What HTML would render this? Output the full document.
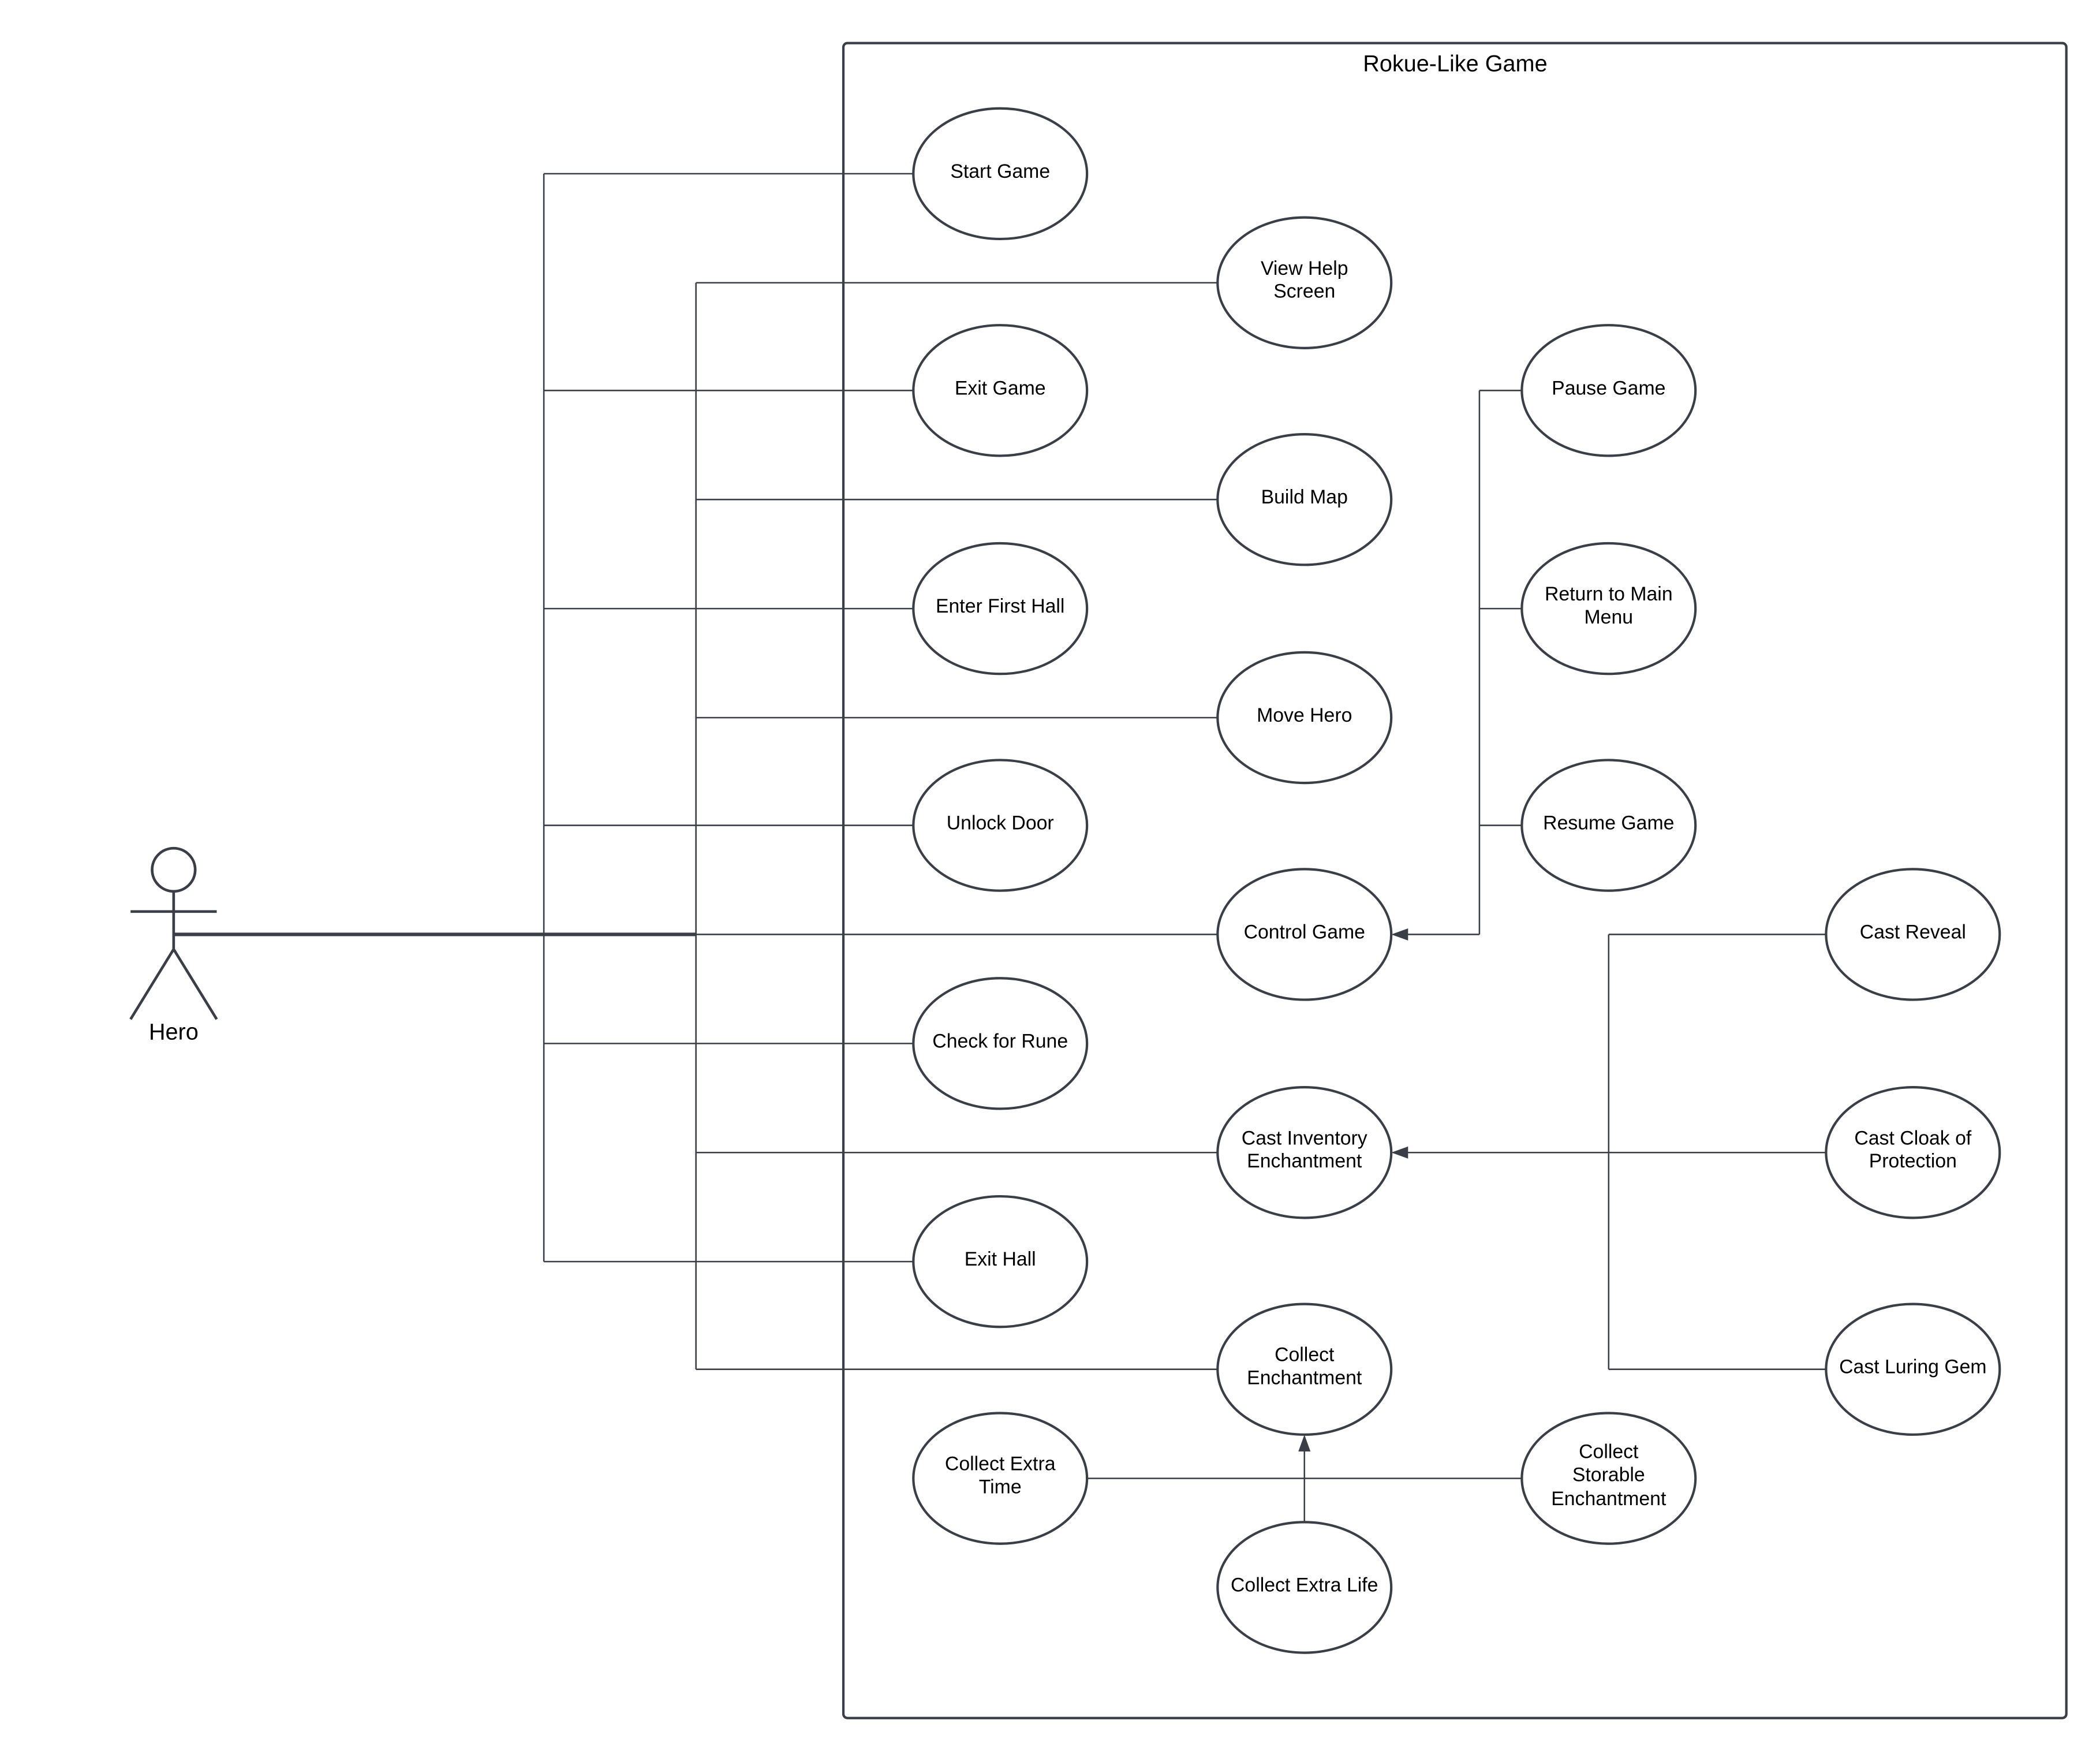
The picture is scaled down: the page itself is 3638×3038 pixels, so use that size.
<!DOCTYPE html>
<html><head><meta charset="utf-8"><style>
html,body{margin:0;padding:0;background:#fff;}
svg{display:block;}
text{font-family:"Liberation Sans",sans-serif;fill:#000;}
</style></head><body>
<svg width="3638" height="3038" viewBox="0 0 1560 1302.7" xmlns="http://www.w3.org/2000/svg">
<rect x="0" y="0" width="1560" height="1302.7" fill="#fff"/>
<rect x="626.5" y="32" width="908.5" height="1244" rx="3" fill="none" stroke="#3a3f47" stroke-width="1.8"/>
<text x="1081" y="53" font-size="17" text-anchor="middle">Rokue-Like Game</text>

<g fill="none" stroke="#3a3f47" stroke-width="1.1">
<!-- left bus x=404 -->
<path d="M404 129V937"/>
<path d="M404 129H678.5 M404 290H678.5 M404 452H678.5 M404 613H678.5 M404 775H678.5 M404 937H678.5"/>
<!-- bus x=517 -->
<path d="M517 210V1017"/>
<path d="M517 210H904.5 M517 371H904.5 M517 533H904.5 M517 694H904.5 M517 856H904.5 M517 1017H904.5"/>
<!-- right bus x=1099 -->
<path d="M1099 290V694 M1099 290H1130.5 M1099 452H1130.5 M1099 613H1130.5 M1099 694H1044"/>
<!-- bus x=1195 -->
<path d="M1195 694V1017 M1195 694H1356.5 M1195 856H1356.5 M1195 1017H1356.5 M1195 856H1044"/>
<!-- collect -->
<path d="M807.5 1098H1130.5 M969 1130.5V1077"/>
</g>
<path d="M129 694H517" stroke="#3a3f47" stroke-width="2.6"/>
<g fill="#3a3f47">
<polygon points="1033.5,694 1046,689.5 1046,698.5"/>
<polygon points="1033.5,856 1046,851.5 1046,860.5"/>
<polygon points="969,1065.5 964.5,1078 973.5,1078"/>
</g>

<!-- actor -->
<g fill="none" stroke="#3a3f47" stroke-width="2">
<ellipse cx="129" cy="646" rx="16" ry="16"/>
<path d="M129 662V705 M97 677H161 M129 705L97 757 M129 705L161 757"/>
</g>
<text x="129" y="772" font-size="17" text-anchor="middle">Hero</text>

<g fill="#fff" stroke="#3a3f47" stroke-width="1.8">
<ellipse cx="743" cy="129" rx="64.5" ry="48.5"/>
<ellipse cx="969" cy="210" rx="64.5" ry="48.5"/>
<ellipse cx="743" cy="290" rx="64.5" ry="48.5"/>
<ellipse cx="969" cy="371" rx="64.5" ry="48.5"/>
<ellipse cx="743" cy="452" rx="64.5" ry="48.5"/>
<ellipse cx="969" cy="533" rx="64.5" ry="48.5"/>
<ellipse cx="743" cy="613" rx="64.5" ry="48.5"/>
<ellipse cx="969" cy="694" rx="64.5" ry="48.5"/>
<ellipse cx="743" cy="775" rx="64.5" ry="48.5"/>
<ellipse cx="969" cy="856" rx="64.5" ry="48.5"/>
<ellipse cx="743" cy="937" rx="64.5" ry="48.5"/>
<ellipse cx="969" cy="1017" rx="64.5" ry="48.5"/>
<ellipse cx="743" cy="1098" rx="64.5" ry="48.5"/>
<ellipse cx="1195" cy="1098" rx="64.5" ry="48.5"/>
<ellipse cx="969" cy="1179" rx="64.5" ry="48.5"/>
<ellipse cx="1195" cy="290" rx="64.5" ry="48.5"/>
<ellipse cx="1195" cy="452" rx="64.5" ry="48.5"/>
<ellipse cx="1195" cy="613" rx="64.5" ry="48.5"/>
<ellipse cx="1421" cy="694" rx="64.5" ry="48.5"/>
<ellipse cx="1421" cy="856" rx="64.5" ry="48.5"/>
<ellipse cx="1421" cy="1017" rx="64.5" ry="48.5"/>
</g>

<g font-size="14.5" text-anchor="middle">
<text x="743" y="132">Start Game</text>
<text x="969" y="204">View Help</text><text x="969" y="221">Screen</text>
<text x="743" y="293">Exit Game</text>
<text x="969" y="374">Build Map</text>
<text x="743" y="455">Enter First Hall</text>
<text x="969" y="536">Move Hero</text>
<text x="743" y="616">Unlock Door</text>
<text x="969" y="697">Control Game</text>
<text x="743" y="778">Check for Rune</text>
<text x="969" y="850">Cast Inventory</text><text x="969" y="867">Enchantment</text>
<text x="743" y="940">Exit Hall</text>
<text x="969" y="1011">Collect</text><text x="969" y="1028">Enchantment</text>
<text x="743" y="1092">Collect Extra</text><text x="743" y="1109">Time</text>
<text x="1195" y="1083">Collect</text><text x="1195" y="1100">Storable</text><text x="1195" y="1118">Enchantment</text>
<text x="969" y="1182">Collect Extra Life</text>
<text x="1195" y="293">Pause Game</text>
<text x="1195" y="446">Return to Main</text><text x="1195" y="463">Menu</text>
<text x="1195" y="616">Resume Game</text>
<text x="1421" y="697">Cast Reveal</text>
<text x="1421" y="850">Cast Cloak of</text><text x="1421" y="867">Protection</text>
<text x="1421" y="1020">Cast Luring Gem</text>
</g>
</svg>
</body></html>
